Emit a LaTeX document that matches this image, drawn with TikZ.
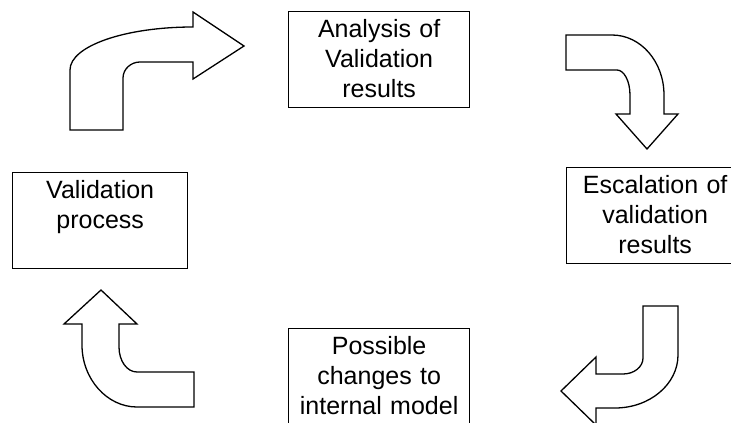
\documentclass[tikz,border=0pt]{standalone}
\usepackage{fontspec}
\setmainfont{Liberation Sans}

\tikzset{
  procbox/.style={draw, line width=1.3pt, anchor=north west, align=center,
    inner xsep=0pt, inner ysep=0pt, text height=25.5pt, text depth=70.5pt,
    font=\fontsize{25}{30}\selectfont},
  bentarrow/.style={draw, line width=1.3pt, line join=miter, fill=white}
}

\begin{document}
\begin{tikzpicture}[x=1pt,y=-1pt]
  \useasboundingbox (0,0) rectangle (731,423);
  \clip (0,0) rectangle (731,423);

  \node[procbox, text width=181pt] (anlys) at (288,11) {Analysis of\\Validation\\results};
  \node[procbox, text width=175pt] (valid) at (12,172) {Validation\\process};
  \node[procbox, text width=177pt] (escal) at (566,167) {Escalation of\\validation\\results};
  \node[procbox, text width=181pt] (chng) at (288,328) {Possible\\changes to\\internal model};

  % up, then right
  \draw[bentarrow] (70,130) -- (70,70) .. controls (70,46) and (125,27) .. (193,27)
    -- (193,12) -- (244,46) -- (193,79) -- (193,62) -- (140,62)
    .. controls (131,62) and (123,69) .. (123,78) -- (123,130) -- cycle;
  % right, then down
  \draw[bentarrow] (566,35) -- (612,35) .. controls (641,35) and (664,62) .. (664,95)
    -- (664,114) -- (678,114) -- (647,149) -- (616,114) -- (630,114) -- (630,95)
    .. controls (630,81) and (624,70) .. (617,70) -- (566,70) -- cycle;
  % down, then left
  \draw[bentarrow] (643,306) -- (678,306) -- (678,355)
    .. controls (678,384) and (650,408) .. (615,408) -- (596,408) -- (596,425)
    -- (561,391) -- (596,357) -- (596,374) -- (623,374)
    .. controls (634,374) and (643,367) .. (643,358) -- cycle;
  % left, then up
  \draw[bentarrow] (101,290) -- (137,324) -- (119,324) -- (119,347)
    .. controls (119,361) and (127,372) .. (137,372) -- (194,372) -- (194,407)
    -- (137,407) .. controls (107,407) and (82,379) .. (82,345) -- (82,324)
    -- (64,324) -- cycle;
\end{tikzpicture}
\end{document}
